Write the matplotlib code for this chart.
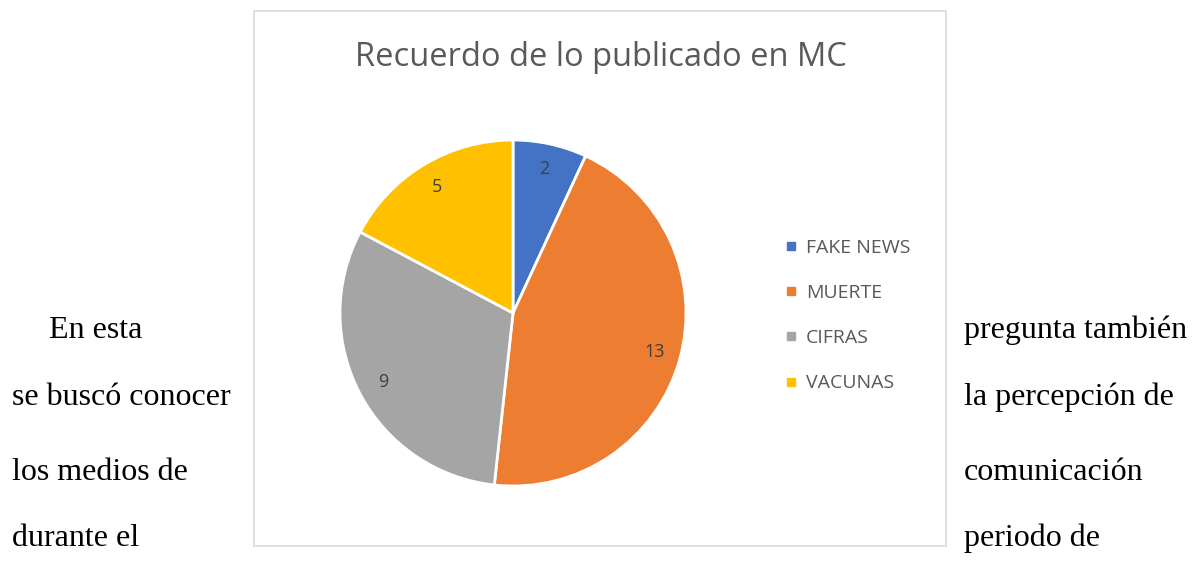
import matplotlib
matplotlib.use("Agg")
import matplotlib.pyplot as plt
from matplotlib.patches import Rectangle
from matplotlib.lines import Line2D

categories = ["FAKE NEWS", "MUERTE", "CIFRAS", "VACUNAS"]
values = [2, 13, 9, 5]
colors = ["#4472C4", "#ED7D31", "#A5A5A5", "#FFC000"]
title = "Recuerdo de lo publicado en MC"
left_text = ["En esta", "se buscó conocer", "los medios de", "durante el"]
right_text = ["pregunta también", "la percepción de", "comunicación", "periodo de"]

W, H = 1197, 561
fig = plt.figure(figsize=(W / 100, H / 100), dpi=100)
ax = fig.add_axes([0, 0, 1, 1])

# pie (y axis goes upward; page y is used as -y)
cx, cy, R = 513, 313, 173
wedges, texts = ax.pie(values, colors=colors, startangle=90, counterclock=False,
                       center=(cx, -cy), radius=R, labels=[str(v) for v in values],
                       labeldistance=0.85,
                       wedgeprops=dict(edgecolor="white", linewidth=2),
                       textprops=dict(color="#404040", fontsize=13, family="Open Sans"))
for t in texts:
    t.set_ha("center")
    t.set_va("center")
ax.set_xlim(0, W)
ax.set_ylim(-H, 0)
ax.set_aspect("equal")
ax.axis("off")

# chart frame
ax.add_patch(Rectangle((253.5, -545.5), 692, 535, fill=False, edgecolor="#D9D9D9", lw=1.2))

# title
ax.text(601, -57, title, ha="center", va="center", fontsize=23.5, color="#595959",
        family="Open Sans")

# legend
handles = [Line2D([], [], marker="s", linestyle="none", markersize=6,
                  markerfacecolor=c, markeredgecolor=c) for c in colors]
leg = ax.legend(handles, categories, loc="upper left",
                bbox_to_anchor=(775 / W, 1 - 229 / H), bbox_transform=fig.transFigure,
                frameon=False, handlelength=0.6, handletextpad=0.5,
                labelspacing=1.4, borderpad=0,
                prop=dict(family="Open Sans", size=14))
for t in leg.get_texts():
    t.set_color("#595959")

# surrounding document text
ys = [330, 397, 472, 538]
lx = [49, 12, 12, 12]
for s, y, x in zip(left_text, ys, lx):
    ax.text(x, -y, s, ha="left", va="center", fontsize=23, family="Liberation Serif", color="black")
for s, y in zip(right_text, ys):
    ax.text(964, -y, s, ha="left", va="center", fontsize=23, family="Liberation Serif", color="black")

fig.savefig("out.png", dpi=100)
